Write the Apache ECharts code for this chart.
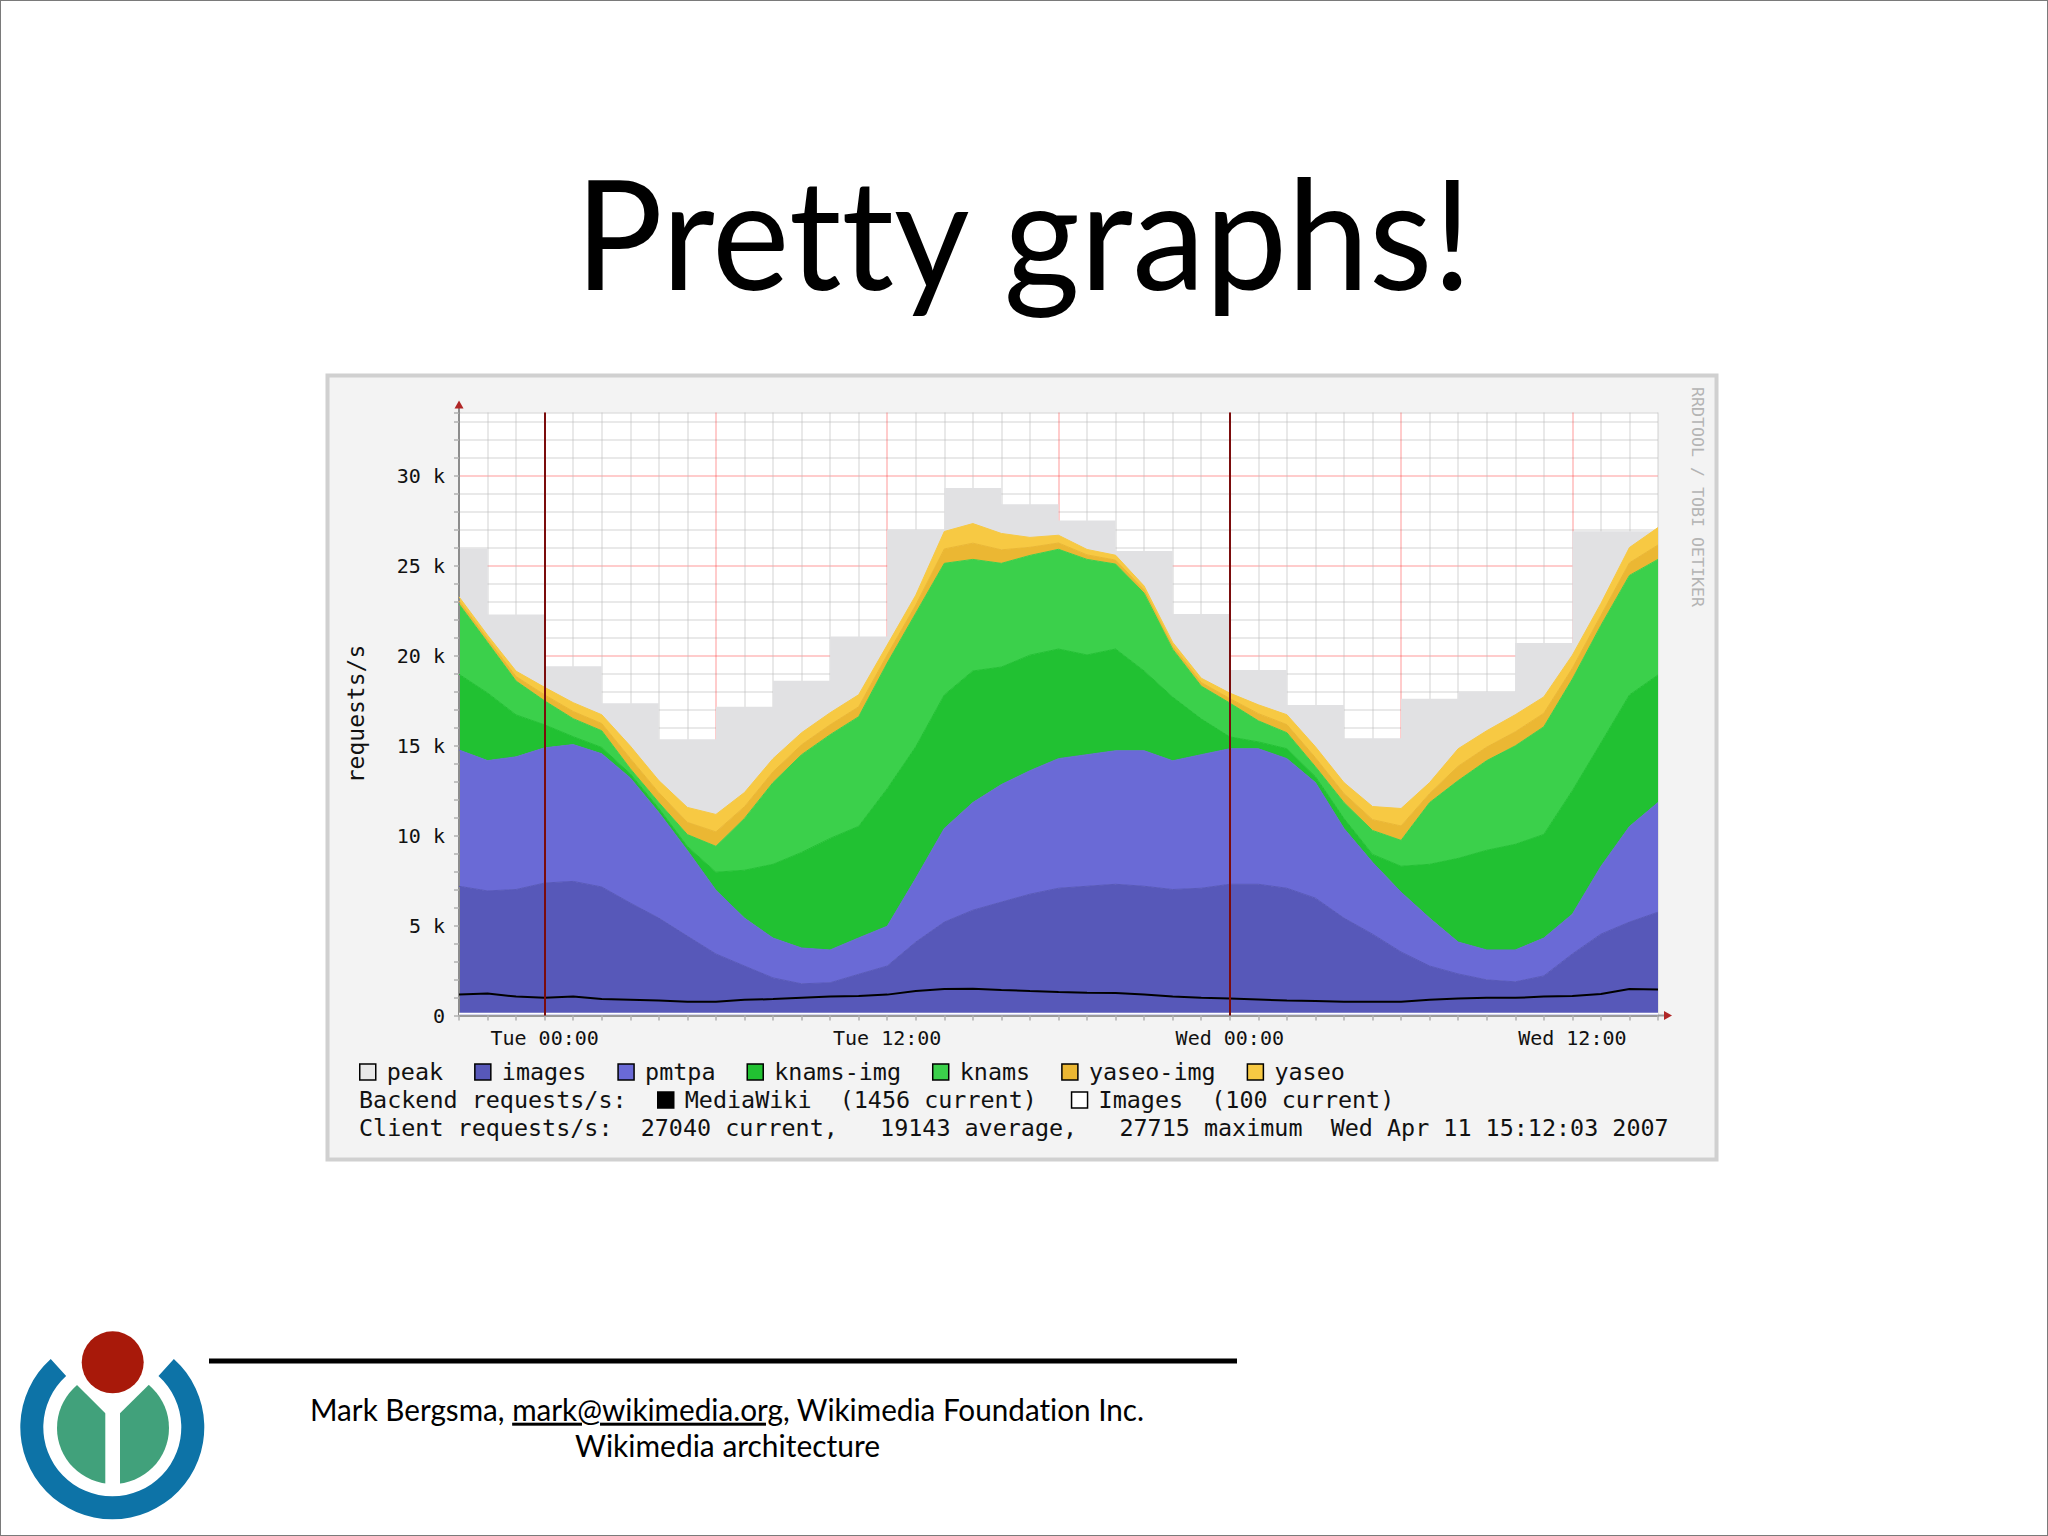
<!DOCTYPE html>
<html>
<head>
<meta charset="utf-8">
<script src="https://cdn.jsdelivr.net/npm/echarts@6/dist/echarts.min.js"></script>
<style>
html, body { margin: 0; padding: 0; background: #ffffff; }
#page { position: relative; width: 2048px; height: 1536px; overflow: hidden; }
#deco { position: absolute; left: 0; top: 0; }
#chart { position: absolute; left: 0; top: 0; width: 2048px; height: 1536px; }
.mono { font-family: "DejaVu Sans Mono", monospace; white-space: pre; }
.slide { font-family: Lato, "Open Sans", sans-serif; font-variant-ligatures: none; font-feature-settings: "liga" 0, "clig" 0, "dlig" 0; }
</style>
</head>
<body>
<div id="page">
<svg id="deco" width="2048" height="1536" xmlns="http://www.w3.org/2000/svg" xml:space="preserve">
  <rect x="0.5" y="0.5" width="2047" height="1535" fill="#ffffff" stroke="#7a7a7a" stroke-width="1"/>
  <text class="slide" x="1023.5" y="290" text-anchor="middle" font-size="153" fill="#000" textLength="897" lengthAdjust="spacingAndGlyphs" letter-spacing="0.01">Pretty graphs!</text>
  <rect x="327.5" y="375.5" width="1389" height="784" fill="#f3f3f3" stroke="#d0d0d0" stroke-width="4"/>
  <text class="mono" id="rrdcredit" transform="translate(1692,387) rotate(90)" font-size="16.5" fill="#b4b4b4" textLength="220" lengthAdjust="spacingAndGlyphs">RRDTOOL / TOBI OETIKER</text>
  <text class="mono" id="row2" x="359" y="1100" dominant-baseline="central" font-size="23.4" fill="#111">Backend requests/s:</text>
  <text class="mono" id="row3" x="359" y="1128" dominant-baseline="central" font-size="23.4" fill="#111"></text>
  <rect x="209" y="1358.5" width="1028" height="5" fill="#000"/>
  <text class="slide" x="727" y="1420.7" text-anchor="middle" font-size="30" fill="#000" textLength="834" lengthAdjust="spacingAndGlyphs">Mark Bergsma, <tspan text-decoration="underline">mark@wikimedia.org</tspan>, Wikimedia Foundation Inc.</text>
  <text class="slide" x="727.5" y="1457.3" text-anchor="middle" font-size="30" fill="#000" textLength="305" lengthAdjust="spacingAndGlyphs">Wikimedia architecture</text>
  <!-- Wikimedia logo -->
  <circle cx="113" cy="1428" r="56" fill="#41a17b"/>
  <polygon points="105.3,1413.3 45,1353 181,1353 120,1413.3" fill="#ffffff"/>
  <rect x="105.3" y="1405" width="14.7" height="90" fill="#ffffff"/>
  <path d="M 50.74 1358.93 A 92 92 0 1 0 173.86 1358.93 L 158.47 1376.03 A 69 69 0 1 1 66.13 1376.03 Z" fill="#0d73a7"/>
  <circle cx="112.7" cy="1362.3" r="31" fill="#a8190a"/>
</svg>
<div id="chart"></div>
</div>
<script>
// ---- data (hours relative to Tue 10 Apr 2007 00:00) ----
const hours = [-3, -2, -1, 0, 1, 2, 3, 4, 5, 6, 7, 8, 9, 10, 11, 12, 13, 14, 15, 16, 17, 18, 19, 20,
  21, 22, 23, 24, 25, 26, 27, 28, 29, 30, 31, 32, 33, 34, 35, 36, 37, 38, 39];

const images = [7180, 6920, 7000, 7360, 7450, 7140, 6250, 5410, 4410, 3420, 2750, 2090, 1760, 1820, 2290,
  2750, 4080, 5190, 5850, 6300, 6740, 7070, 7180, 7290, 7180, 7000, 7070, 7290, 7290, 7070, 6520, 5410,
  4520, 3530, 2750, 2310, 1980, 1870, 2200, 3420, 4520, 5190, 5740];

const pmtpa = [7570, 7240, 7370, 7510, 7600, 7400, 6950, 5870, 4760, 3540, 2660, 2210, 1990, 1820, 2020,
  2210, 3540, 5200, 5980, 6530, 6860, 7200, 7310, 7420, 7530, 7150, 7420, 7530, 7530, 7200, 6420, 4980,
  3990, 3320, 2660, 1770, 1660, 1770, 2100, 2210, 3760, 5310, 6090];

const knamsImg = [4210, 3760, 2330, 1280, 440, 350, 220, 220, 220, 1000, 2660, 4100, 5310, 6200, 6200,
  7640, 7310, 7420, 7310, 6530, 6420, 6090, 5540, 5650, 4430, 3540, 1990, 660, 380, 550, 330, 550,
  440, 1440, 2990, 4650, 5540, 5870, 5760, 6860, 6860, 7310, 7090];

const knams = [3900, 2810, 1880, 1330, 1000, 930, 290, 330, 660, 1440, 2880, 4540, 5430, 5760, 6090,
  6980, 7420, 7310, 6200, 5760, 5540, 5540, 5310, 4720, 4320, 2660, 1820, 1880, 1170, 890, 550, 890,
  1330, 1440, 3430, 4320, 4980, 5470, 5980, 6200, 6530, 6640, 6420];

const yaseoImg = [180, 180, 250, 330, 400, 400, 570, 550, 680, 800, 650, 600, 550, 550, 550,
  450, 450, 800, 900, 750, 450, 350, 250, 220, 180, 170, 200, 250, 400, 450, 500, 500,
  600, 800, 500, 800, 750, 780, 750, 600, 550, 700, 800];

const yaseo = [220, 220, 300, 420, 490, 490, 690, 670, 830, 970, 790, 730, 670, 670, 670,
  550, 550, 970, 1090, 910, 550, 430, 300, 270, 220, 210, 240, 300, 490, 550, 610, 610,
  730, 970, 610, 970, 910, 950, 910, 730, 670, 850, 970];

const mediaWiki = [1160, 1220, 1050, 980, 1050, 910, 870, 830, 760, 760, 870, 910, 980, 1050, 1090,
  1160, 1360, 1470, 1490, 1420, 1360, 1310, 1270, 1250, 1160, 1050, 980, 940, 890, 830, 800, 760,
  760, 760, 870, 940, 980, 980, 1050, 1090, 1200, 1470, 1450];

const imagesBackend = [100, 100, 100, 100, 100, 100, 100, 100, 100, 100, 100, 100, 100, 100, 100,
  100, 100, 100, 100, 100, 100, 100, 100, 100, 100, 100, 100, 100, 100, 100, 100, 100,
  100, 100, 100, 100, 100, 100, 100, 100, 100, 100, 100];

// 2-hour peak blocks: start hour of each block and its peak value
const peakHours = [-4, -2, 0, 2, 4, 6, 8, 10, 12, 14, 16, 18, 20, 22, 24, 26, 28, 30, 32, 34, 36, 38];
const peakValues = [25950, 22280, 19400, 17350, 15350, 17150, 18600, 21050, 27000, 29300, 28400, 27500,
  25800, 22300, 19200, 17250, 15400, 17600, 18000, 20700, 26900, 26900];

const midnightHours = [0, 24];
const xLabelHours = [0, 12, 24, 36];
const xLabelTexts = ['Tue 00:00', 'Tue 12:00', 'Wed 00:00', 'Wed 12:00'];

const backendNames = ['MediaWiki', 'Images'];
const backendCurrent = [1456, 100];
const clientCurrent = 27040;
const clientAverage = 19143;
const clientMaximum = 27715;
const stampText = 'Wed Apr 11 15:12:03 2007';

// ---- chart ----
document.getElementById('row3').textContent =
  'Client requests/s:  ' + clientCurrent + ' current,   ' + clientAverage + ' average,   ' +
  clientMaximum + ' maximum  ' + stampText;

const MAJOR = 'rgba(255,50,50,0.33)';
const MINOR = 'rgba(185,185,185,0.42)';
const MONO = '"DejaVu Sans Mono", monospace';

// peak value for each hourly category (the block that contains that hour)
const peakByHour = hours.map(h => {
  let idx = 0;
  for (let i = 0; i < peakHours.length; i++) { if (peakHours[i] <= h) idx = i; }
  return peakValues[idx];
});

const stackSeries = (name, arr, color) => ({
  name: name, type: 'line', stack: 'total', data: arr,
  symbol: 'none', showSymbol: false, silent: true,
  lineStyle: { color: color, width: 1 },
  areaStyle: { color: color, opacity: 1 },
  itemStyle: { color: color }
});

const chart = echarts.init(document.getElementById('chart'), null, { renderer: 'svg', width: 2048, height: 1536 });

const option = {
  animation: false,
  backgroundColor: 'transparent',
  textStyle: { fontFamily: MONO },
  grid: { left: 459, top: 412.5, width: 1199, height: 603, show: true, backgroundColor: '#ffffff', borderWidth: 0, containLabel: false },
  xAxis: {
    type: 'category', data: hours.map(String), boundaryGap: false, z: 3,
    axisLine: { show: true, onZero: false, lineStyle: { color: '#9a9a9a', width: 2 } },
    axisTick: { show: true, interval: 0, length: 5, lineStyle: { color: '#b0b0b0', width: 1.5 } },
    axisLabel: {
      show: true, interval: 0, margin: 12, fontSize: 20, color: '#111', fontFamily: MONO,
      formatter: v => { const i = xLabelHours.indexOf(Number(v)); return i >= 0 ? xLabelTexts[i] : ''; }
    },
    splitLine: { show: true, interval: 0, lineStyle: { width: 1.5, color: [MINOR, MINOR, MINOR, MAJOR, MINOR, MINOR] } }
  },
  yAxis: {
    type: 'value', min: 0, max: 33500, interval: 1000, z: 3,
    name: 'requests/s', nameLocation: 'middle', nameGap: 92, nameRotate: 90,
    nameTextStyle: { fontFamily: MONO, fontSize: 23, color: '#111' },
    axisLine: { show: true, onZero: false, lineStyle: { color: '#8c8c8c', width: 2 } },
    axisTick: { show: true, length: 5, lineStyle: { color: '#b0b0b0', width: 1.5 } },
    axisLabel: {
      show: true, margin: 14, fontSize: 20, color: '#111', fontFamily: MONO,
      formatter: v => (v % 5000 === 0 ? (v === 0 ? '0' : (v / 1000) + ' k') : '')
    },
    splitLine: { show: true, lineStyle: { width: 1.5, color: [MAJOR, MINOR, MINOR, MINOR, MINOR] } }
  },
  legend: [
    {
      data: ['peak', 'images', 'pmtpa', 'knams-img', 'knams', 'yaseo-img', 'yaseo'],
      left: 359, top: 1060, orient: 'horizontal', padding: 0, itemGap: 31,
      icon: 'rect', itemWidth: 16, itemHeight: 16, selectedMode: false,
      itemStyle: { borderColor: '#000', borderWidth: 1.5 },
      textStyle: { fontFamily: MONO, fontSize: 23.4, color: '#111', lineHeight: 24, padding: [0, 0, 0, 6] }
    },
    {
      data: backendNames,
      left: 657, top: 1088, orient: 'horizontal', padding: 0, itemGap: 34,
      icon: 'rect', itemWidth: 16, itemHeight: 16, selectedMode: false,
      itemStyle: { borderColor: '#000', borderWidth: 1.5 },
      formatter: name => name + '\u00a0\u00a0(' + backendCurrent[backendNames.indexOf(name)] + ' current)',
      textStyle: { fontFamily: MONO, fontSize: 23.4, color: '#111', lineHeight: 24, padding: [0, 0, 0, 6] }
    }
  ],
  series: [
    {
      name: 'peak', type: 'line', step: 'end', silent: true, data: peakByHour,
      symbol: 'none', showSymbol: false,
      lineStyle: { width: 0, color: '#e1e1e3' },
      areaStyle: { color: '#e1e1e3', opacity: 1 },
      itemStyle: { color: '#e8e8e8' }
    },
    stackSeries('images', images, '#5758b9'),
    stackSeries('pmtpa', pmtpa, '#6a6ad6'),
    stackSeries('knams-img', knamsImg, '#21c132'),
    stackSeries('knams', knams, '#3bd04b'),
    stackSeries('yaseo-img', yaseoImg, '#ebb733'),
    stackSeries('yaseo', yaseo, '#f7c943'),
    {
      name: 'Images', type: 'line', data: imagesBackend, symbol: 'none', showSymbol: false, silent: true, z: 4,
      lineStyle: { color: '#ffffff', width: 2 }, itemStyle: { color: '#ffffff' }
    },
    {
      name: 'MediaWiki', type: 'line', data: mediaWiki, symbol: 'none', showSymbol: false, silent: true, z: 4,
      lineStyle: { color: '#000000', width: 2 }, itemStyle: { color: '#000000' },
      markLine: {
        silent: true, symbol: ['none', 'none'], label: { show: false },
        lineStyle: { color: '#7b0c0c', width: 2, type: 'solid' },
        data: midnightHours.map(h => ({ xAxis: String(h) }))
      }
    }
  ]
};
chart.setOption(option);

// axis arrows, placed through the axes' own scales
const topLeft = chart.convertToPixel({ xAxisIndex: 0, yAxisIndex: 0 }, [String(hours[0]), 33500]);
const bottomRight = chart.convertToPixel({ xAxisIndex: 0, yAxisIndex: 0 }, [String(hours[hours.length - 1]), 0]);
chart.setOption({
  graphic: [
    { type: 'line', silent: true, z: 10, shape: { x1: topLeft[0], y1: topLeft[1], x2: topLeft[0], y2: topLeft[1] - 6 }, style: { stroke: '#8c8c8c', lineWidth: 2 } },
    { type: 'polygon', silent: true, z: 10, shape: { points: [[topLeft[0] - 4.5, topLeft[1] - 4], [topLeft[0] + 4.5, topLeft[1] - 4], [topLeft[0], topLeft[1] - 12]] }, style: { fill: '#b02626' } },
    { type: 'line', silent: true, z: 10, shape: { x1: bottomRight[0], y1: bottomRight[1], x2: bottomRight[0] + 8, y2: bottomRight[1] }, style: { stroke: '#9a9a9a', lineWidth: 2 } },
    { type: 'polygon', silent: true, z: 10, shape: { points: [[bottomRight[0] + 6, bottomRight[1] - 4.5], [bottomRight[0] + 6, bottomRight[1] + 4.5], [bottomRight[0] + 14, bottomRight[1]]] }, style: { fill: '#b02626' } }
  ]
});
</script>
</body>
</html>
